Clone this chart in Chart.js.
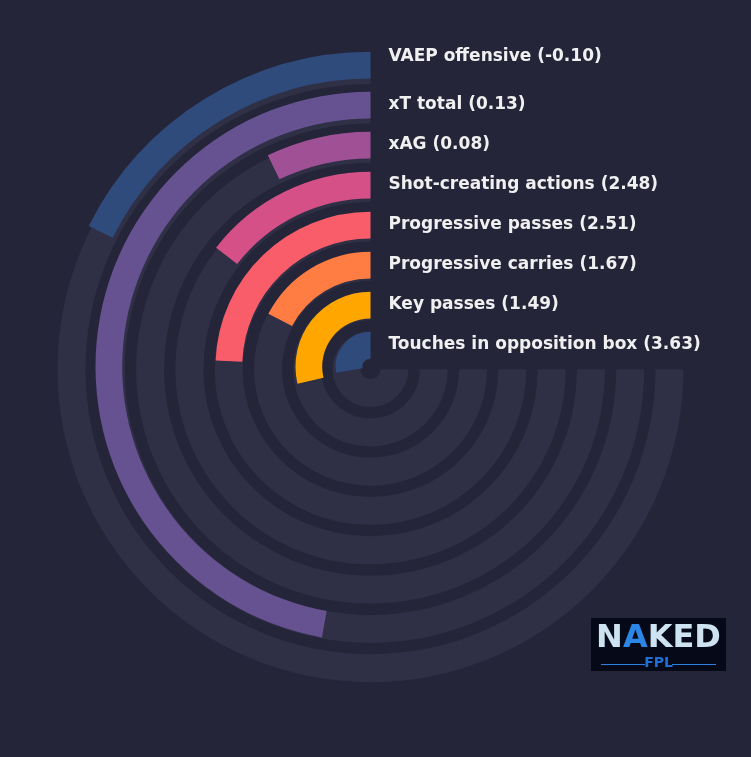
<!DOCTYPE html>
<html>
<head>
<meta charset="utf-8">
<script src="https://cdn.jsdelivr.net/npm/chart.js@4.4.0/dist/chart.umd.min.js"></script>
<style>
  html, body { margin: 0; padding: 0; background: #252539; }
  #wrap { position: relative; width: 751px; height: 757px; overflow: hidden; }
  canvas { position: absolute; left: 0; top: 0; }
  #logo {
    position: absolute; left: 591px; top: 618px; width: 135px; height: 53px;
    background: #060a18; font-family: "DejaVu Sans", sans-serif; text-align: center;
  }
  #logo .big {
    position: absolute; left: 0; top: 2px; width: 135px; font-weight: bold; font-size: 32px;
    line-height: 32px; color: #cde3f2;
  }
  #logo .big span { color: #2b86e6; }
  #logo .small {
    position: absolute; left: 0; top: 36px; width: 135px; font-weight: bold; font-size: 14px;
    line-height: 16px; color: #1f6fd6;
  }
  #logo .line { position: absolute; top: 46px; height: 1px; width: 44px; background: #2a7fe0; }
</style>
</head>
<body>
<div id="wrap">
  <canvas id="trackChart" width="751" height="757"></canvas>
  <canvas id="barChart" width="751" height="757"></canvas>
  <div id="logo">
    <div class="big">N<span>A</span>KED</div>
    <div class="line" style="left:10px"></div>
    <div class="small">FPL</div>
    <div class="line" style="right:10px"></div>
  </div>
</div>
<script>
// =============================
// DATA
// =============================
const categories = [
  'VAEP offensive',
  'xT total',
  'xAG',
  'Shot-creating actions',
  'Progressive passes',
  'Progressive carries',
  'Key passes',
  'Touches in opposition box'
];
const perNinety = [-0.10, 0.13, 0.08, 2.48, 2.51, 1.67, 1.49, 3.63];
// share of the 270 degree track filled by each bar (percent)
const percentiles = [23.5, 62.9, 9.6, 19.4, 32.5, 23.2, 38.2, 37.0];
const barColors = ['#2f4b7c', '#665191', '#a05195', '#d45087', '#f95d6a', '#ff7c43', '#ffa600', '#2f4b7c'];

const TRACK = '#2f3046';
const GAP = 'rgba(0,0,0,0)';

// =============================
// TRACKS (background rings)
// =============================
const trackSets = [];
categories.forEach((c, i) => {
  trackSets.push({ data: [100], backgroundColor: [TRACK], borderWidth: 0, weight: 28 });
  if (i < categories.length - 1) {
    trackSets.push({ data: [100], backgroundColor: [GAP], borderWidth: 0, weight: 11.3 });
  }
});

const common = {
  responsive: false,
  animation: false,
  rotation: 90,
  circumference: 270,
  events: [],
  plugins: { legend: { display: false }, tooltip: { enabled: false } }
};

window.trackChart = new Chart(document.getElementById('trackChart'), {
  type: 'doughnut',
  data: { labels: ['track'], datasets: trackSets },
  options: {
    ...common,
    cutout: 313 - (8 * 28 + 7 * 11.3),
    layout: { padding: { left: 57.5, right: 67.5, top: 56.2, bottom: 74.8 } }
  }
});

// =============================
// BARS + LABELS
// =============================
const barSets = [];
categories.forEach((c, i) => {
  barSets.push({
    label: c,
    data: [100 - percentiles[i], percentiles[i]],
    backgroundColor: [GAP, barColors[i]],
    borderWidth: 0,
    weight: 26.7
  });
  if (i < categories.length - 1) {
    barSets.push({ data: [100], backgroundColor: [GAP], borderWidth: 0, weight: 13.3 });
  }
});

const labelPlugin = {
  id: 'ringLabels',
  afterDraw(chart) {
    const ctx = chart.ctx;
    ctx.save();
    ctx.font = 'bold 17px "DejaVu Sans", sans-serif';
    ctx.fillStyle = '#f0f0f0';
    ctx.textBaseline = 'middle';
    ctx.textAlign = 'left';
    categories.forEach((c, i) => {
      const meta = chart.getDatasetMeta(i * 2);
      const arc = meta.data[1];
      const mid = (arc.outerRadius + arc.innerRadius) / 2;
      const y = arc.y - mid - (i === 0 ? 8 : 0);
      ctx.fillText(c + ' (' + perNinety[i].toFixed(2) + ')', arc.x + 18, y);
    });
    ctx.restore();
  }
};

window.barChart = new Chart(document.getElementById('barChart'), {
  type: 'doughnut',
  data: { labels: ['rest', 'value'], datasets: barSets },
  options: {
    ...common,
    cutout: 315 - (8 * 26.7 + 7 * 13.3),
    layout: { padding: { left: 55.5, right: 65.5, top: 51.7, bottom: 75.3 } }
  },
  plugins: [labelPlugin]
});
</script>
</body>
</html>
